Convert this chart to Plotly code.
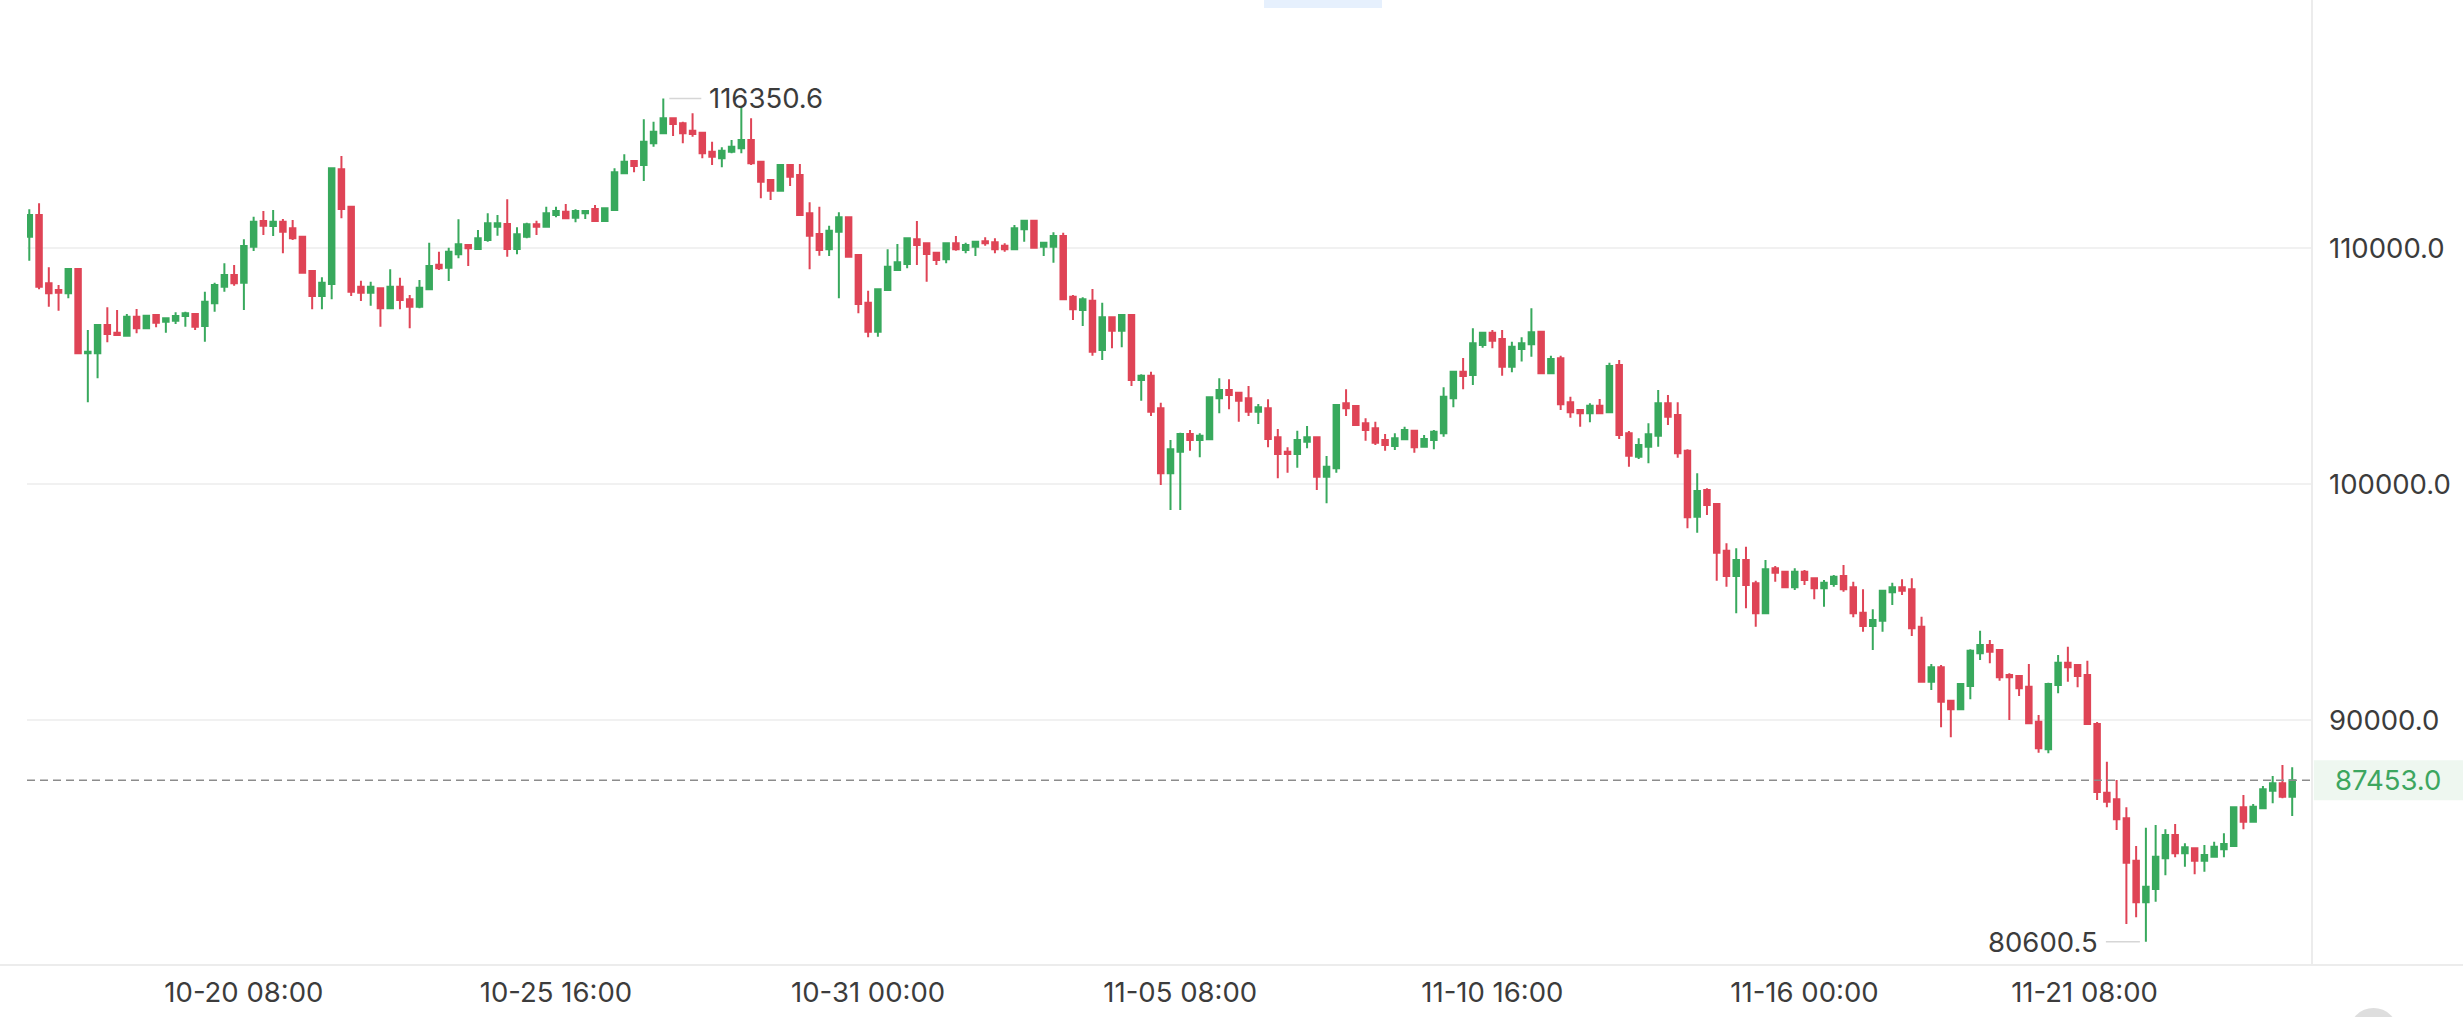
import pandas as pd
import plotly.graph_objects as go

# ---- data (4h candles) ----
start_time = "2025-10-16 16:00"
opens = [110491,111411,108515,108232,108092,109122,105549,105549,106748,106422,
         106295,107100,106608,107172,106888,106930,107130,107215,106706,107668,
         108372,108868,108541,110067,111157,110945,111127,110847,110491,109038,
         107978,108486,113348,111763,108372,108117,108304,107456,108372,107837,
         107524,108261,109300,109177,109745,110140,109970,110351,110915,111030,
         109970,110491,111017,110915,111411,111552,111297,111483,111665,111157,
         111623,113179,113700,113530,114450,114875,115510,115298,114985,114900,
         114094,113812,114094,114239,114591,113671,112895,112441,113530,113107,
         111483,110606,109957,110703,111314,109716,107694,106465,108232,109080,
         109334,110381,110212,109813,109533,110212,109928,110067,110297,110254,
         110110,109958,110805,111170,110067,110067,110521,107948,107384,107778,
         105689,107073,106507,107172,104417,104600,103216,100462,101378,102128,
         101874,101903,103641,103993,103879,103641,103074,103216,101987,101378,
         101279,101803,101987,100318,100674,103429,103315,102581,102369,101874,
         101619,101903,102268,101590,101874,102157,103641,104769,104629,105900,
         106422,106155,104980,105731,105934,106465,104701,105337,103471,103145,
         103005,103329,103048,105053,102157,101166,101590,102057,103429,102933,
         101420,98624,99754,99161,97180,96107,96786,95796,94528,96434,
         96291,95629,96291,96011,95587,95769,96109,95629,94553,93989,
         94213,95417,95629,95545,93959,91627,92237,90822,90457,91446,
         92831,93184,92972,91912,91870,91414,89932,88761,91488,92435,
         92335,91912,89835,86922,86643,85837,84040,82276,82841,84141,
         85129,84352,84566,84040,84210,84523,84664,86303,85694,86261,
         87008,87320,86755]
highs = [111653,111907,109194,108444,109151,109151,106536,106777,107498,107384,
         107215,107426,107172,107200,107032,107286,107314,107244,108160,108541,
         109364,109292,110381,111339,111581,111623,111242,111199,110491,109038,
         108770,113433,113912,111763,108626,108584,108304,109109,108756,108020,
         108656,110237,109855,110025,111229,110169,110775,111483,111411,112077,
         110890,111085,111170,111763,111763,111877,111653,111581,111834,111695,
         113391,113984,113743,115468,115366,116350.6,115553,115366,115722,114942,
         114518,114281,114591,116002,115510,113671,112925,113530,113573,113573,
         111949,111763,110958,111526,111340,109716,108203,108304,109958,110182,
         110466,111157,110254,109830,110254,110521,110237,110280,110466,110424,
         110212,110988,111200,111170,110280,110678,110661,108020,107922,108274,
         107694,107100,107215,107215,104658,104769,103454,101874,102183,102298,
         102157,103708,104489,104446,103879,104163,103399,103599,102340,101565,
         102268,102467,101987,101195,103357,104022,103357,102793,102650,102128,
         102157,102437,102298,102085,102298,104107,104769,105350,106609,106465,
         106536,106536,106041,106227,107456,106494,105448,105448,103708,103188,
         103429,103611,105151,105264,102256,101945,102581,103993,103781,103471,
         101479,100462,99826,99161,97494,97282,97350,95910,96787,96532,
         96333,96434,96362,96011,95938,96150,96575,95867,95545,94697,
         95515,95824,95968,96011,94383,92378,92335,90852,91560,93002,
         93790,93396,93002,91984,91912,92378,90216,91585,92760,93112,
         92378,92518,89920,88237,87461,86303,84664,85439,85553,85370,
         85596,84777,84608,84706,84846,85201,86329,86826,86444,87206,
         87631,88097,88000]
lows = [109474,108261,107524,107354,107880,105506,103471,104488,106015,106295,
        106253,106396,106566,106651,106422,106790,106676,106536,106040,107312,
        108160,108414,107384,109885,110563,110521,109788,110351,108965,107414,
        107414,107837,111271,107978,107766,107566,106676,107414,107414,106608,
        107456,108261,109080,108613,109576,109249,109928,110280,110534,109643,
        109745,110423,110563,110915,111314,111242,111102,111242,111157,111157,
        111623,113179,113221,112852,114307,114875,114760,114450,114730,113812,
        113530,113433,114026,114026,113530,112119,112047,112441,112641,111369,
        109110,109686,109673,107880,109643,107243,106227,106253,108232,109038,
        109152,109292,108584,109292,109364,109898,109788,109673,110110,109788,
        109856,109958,110280,110025,109673,109390,107838,106961,106706,105448,
        105264,105761,105803,104163,103539,102891,99966,98906,98906,101420,
        101140,101874,103005,103174,102649,102891,102547,101565,100249,100487,
        100699,101522,99754,99196,100487,102891,102510,101844,101662,101420,
        101450,101874,101335,101565,101479,102013,103259,104022,104201,105787,
        105761,104600,104743,105197,105405,104671,104671,103145,102819,102437,
        102624,102962,103048,101916,100742,101067,100886,101590,102510,101123,
        98131,97946,98694,95910,95654,94528,94737,93962,94528,95867,
        95587,95515,95726,95121,94807,95654,95443,94359,93747,92972,
        93747,94878,95303,93565,91585,91277,89694,89270,90428,90881,
        92547,92406,91670,90000,91023,89835,88617,88592,91135,91627,
        91390,89835,86613,86303,85342,81357,81640,80600.5,82302,83420,
        84183,83787,83463,83574,84183,84183,84634,85370,85694,86219,
        86472,86685,85936]
closes = [111411,108372,108092,108118,109122,105549,105616,106748,106367,106324,
          107100,106608,107142,106846,107032,107130,107244,106676,107736,108444,
          108868,108516,110097,111127,110958,111127,110703,110423,108965,107978,
          108541,113391,111665,108160,108117,108372,107456,108372,107808,107524,
          108329,109249,109150,109855,110169,110000,110423,111059,111059,109970,
          110593,111017,110915,111483,111581,111271,111581,111581,111157,111695,
          113221,113671,113488,114518,114942,115510,115269,114875,114845,114026,
          113883,114137,114307,114591,113603,112823,112441,113530,113035,111411,
          110534,109928,110746,111314,109643,107638,106465,108261,109220,109406,
          110424,110140,109758,109504,110212,109958,110140,110280,110212,109958,
          109958,110848,111170,110025,110237,110521,107838,107414,107838,105617,
          107073,106507,107172,104417,104600,103074,100462,101478,102128,101874,
          102055,103683,103993,103781,103539,103074,103265,101916,101279,101279,
          101874,101987,100318,100742,103357,103216,102510,102298,101759,101662,
          101945,102298,101565,101916,102228,103708,104769,104587,105973,106422,
          106083,104980,105829,105973,106439,104701,105308,103386,103048,103005,
          103329,103005,105011,102085,101207,101661,102115,103429,102861,101308,
          98597,99712,99118,97097,96107,96786,95726,94528,96392,96248,
          95629,96291,95938,95587,95824,96078,95545,94528,93989,94244,
          95485,95629,95485,93892,91627,92237,90779,90457,91531,92941,
          93184,92900,91814,91814,91348,89862,88804,91531,92435,92237,
          91869,89835,86952,86540,85795,83955,82276,82938,84210,85129,
          84352,84608,84040,84281,84634,84748,86303,85694,86329,87066,
          87320,86755,87453]

# tick label text and where the reference places each label on the time axis
tick_labels = ["10-20 08:00", "10-25 16:00", "10-31 00:00", "11-05 08:00",
               "11-10 16:00", "11-16 00:00", "11-21 08:00"]
tick_positions = ["2025-10-20 08:00", "2025-10-25 16:00", "2025-10-31 00:00",
                  "2025-11-05 08:00", "2025-11-10 16:00", "2025-11-16 00:00",
                  "2025-11-20 18:50"]
price_ticks = [90000, 100000, 110000]
last_price = 87453.0
max_label = "116350.6"
min_label = "80600.5"

# ---- figure ----
t0 = pd.Timestamp(start_time)
step = pd.Timedelta(hours=4)
times = [t0 + step * i for i in range(len(closes))]

GREEN = "#38A95D"
RED = "#DF4456"
TEXT = "#3c3c3c"
FONT = "Inter"
FS = 27.5

fig = go.Figure(go.Candlestick(
    x=times, open=opens, high=highs, low=lows, close=closes,
    increasing=dict(line=dict(color=GREEN, width=2), fillcolor=GREEN),
    decreasing=dict(line=dict(color=RED, width=2), fillcolor=RED),
    whiskerwidth=0, hoverinfo="skip", showlegend=False,
))

W, H = 2463, 1017
L, R, T, B = 27, 151, 0, 52
pw = W - L - R
ph = H - T - B

fig.update_layout(
    width=W, height=H,
    margin=dict(l=L, r=R, t=T, b=B),
    paper_bgcolor="white", plot_bgcolor="white",
    font=dict(family=FONT, size=FS, color=TEXT),
    boxgap=0.25, boxgroupgap=0.25,
    xaxis=dict(
        type="date",
        range=[t0 - step * 0.236, t0 + step * 234.03],
        tickvals=tick_positions, ticktext=tick_labels,
        showgrid=False, zeroline=False, showline=False,
        ticks="", ticklabelstandoff=8,
        tickfont=dict(family=FONT, size=FS, color=TEXT),
        rangeslider=dict(visible=False), fixedrange=True,
    ),
    yaxis=dict(
        side="right",
        range=[79619, 120525],
        tickvals=price_ticks,
        ticktext=[f"{v:.1f}" for v in price_ticks],
        showgrid=True, gridcolor="#f1f1f1", gridwidth=1.5,
        zeroline=False, showline=False, ticks="",
        ticklabelstandoff=16,
        tickfont=dict(family=FONT, size=FS, color=TEXT),
        fixedrange=True,
    ),
)

x_right = (W - L) / pw
# frame lines: right panel divider and bottom line
fig.add_shape(type="line", xref="paper", yref="paper", x0=1, x1=1, y0=0, y1=1,
              line=dict(color="#ececec", width=2))
fig.add_shape(type="line", xref="paper", yref="paper", x0=-L / pw, x1=x_right, y0=0, y1=0,
              line=dict(color="#ececec", width=2))

# last price dashed line + label
fig.add_shape(type="line", xref="paper", yref="y", x0=0, x1=1, y0=last_price, y1=last_price,
              line=dict(color="#8c8c8c", width=1.5, dash="8px,5px"))
fig.add_shape(type="rect", xref="paper", yref="y", ysizemode="pixel", yanchor=last_price,
              x0=1.0008, x1=x_right, y0=-20, y1=20,
              fillcolor="#EEF7F0", line=dict(width=0), layer="below")
fig.add_annotation(xref="paper", yref="y", x=(2387.5 - L) / pw, y=last_price,
                   text=f"{last_price:.1f}", showarrow=False, xanchor="center",
                   font=dict(family=FONT, size=FS, color="#3DA660"))

# max / min markers
i_max = highs.index(max(highs))
i_min = lows.index(min(lows))
fig.add_shape(type="line", xref="x", yref="y", xsizemode="pixel", xanchor=times[i_max],
              x0=6, x1=38, y0=highs[i_max], y1=highs[i_max],
              line=dict(color="#d6d6d6", width=1.5))
fig.add_annotation(x=times[i_max], y=highs[i_max], text=max_label, showarrow=False,
                   xanchor="left", xshift=44, font=dict(family=FONT, size=FS, color=TEXT))
fig.add_shape(type="line", xref="x", yref="y", xsizemode="pixel", xanchor=times[i_min],
              x0=-40, x1=-6, y0=lows[i_min], y1=lows[i_min],
              line=dict(color="#d6d6d6", width=1.5))
fig.add_annotation(x=times[i_min], y=lows[i_min], text=min_label, showarrow=False,
                   xanchor="right", xshift=-46, font=dict(family=FONT, size=FS, color=TEXT))

# top tab indicator and bottom-right UI circle
fig.add_shape(type="rect", xref="paper", yref="paper",
              x0=(1264 - L) / pw, x1=(1382 - L) / pw, y0=(ph - 8) / ph, y1=1.0,
              fillcolor="#E6F0FD", line=dict(width=0))
fig.add_shape(type="circle", xref="paper", yref="paper",
              x0=(2349 - L) / pw, x1=(2398 - L) / pw,
              y0=(ph - (1057 - T)) / ph, y1=(ph - (1008 - T)) / ph,
              fillcolor="#dedede", line=dict(width=0))

fig.write_html("out.html", config={"displayModeBar": False},
               post_script="document.body.style.margin='0';")
